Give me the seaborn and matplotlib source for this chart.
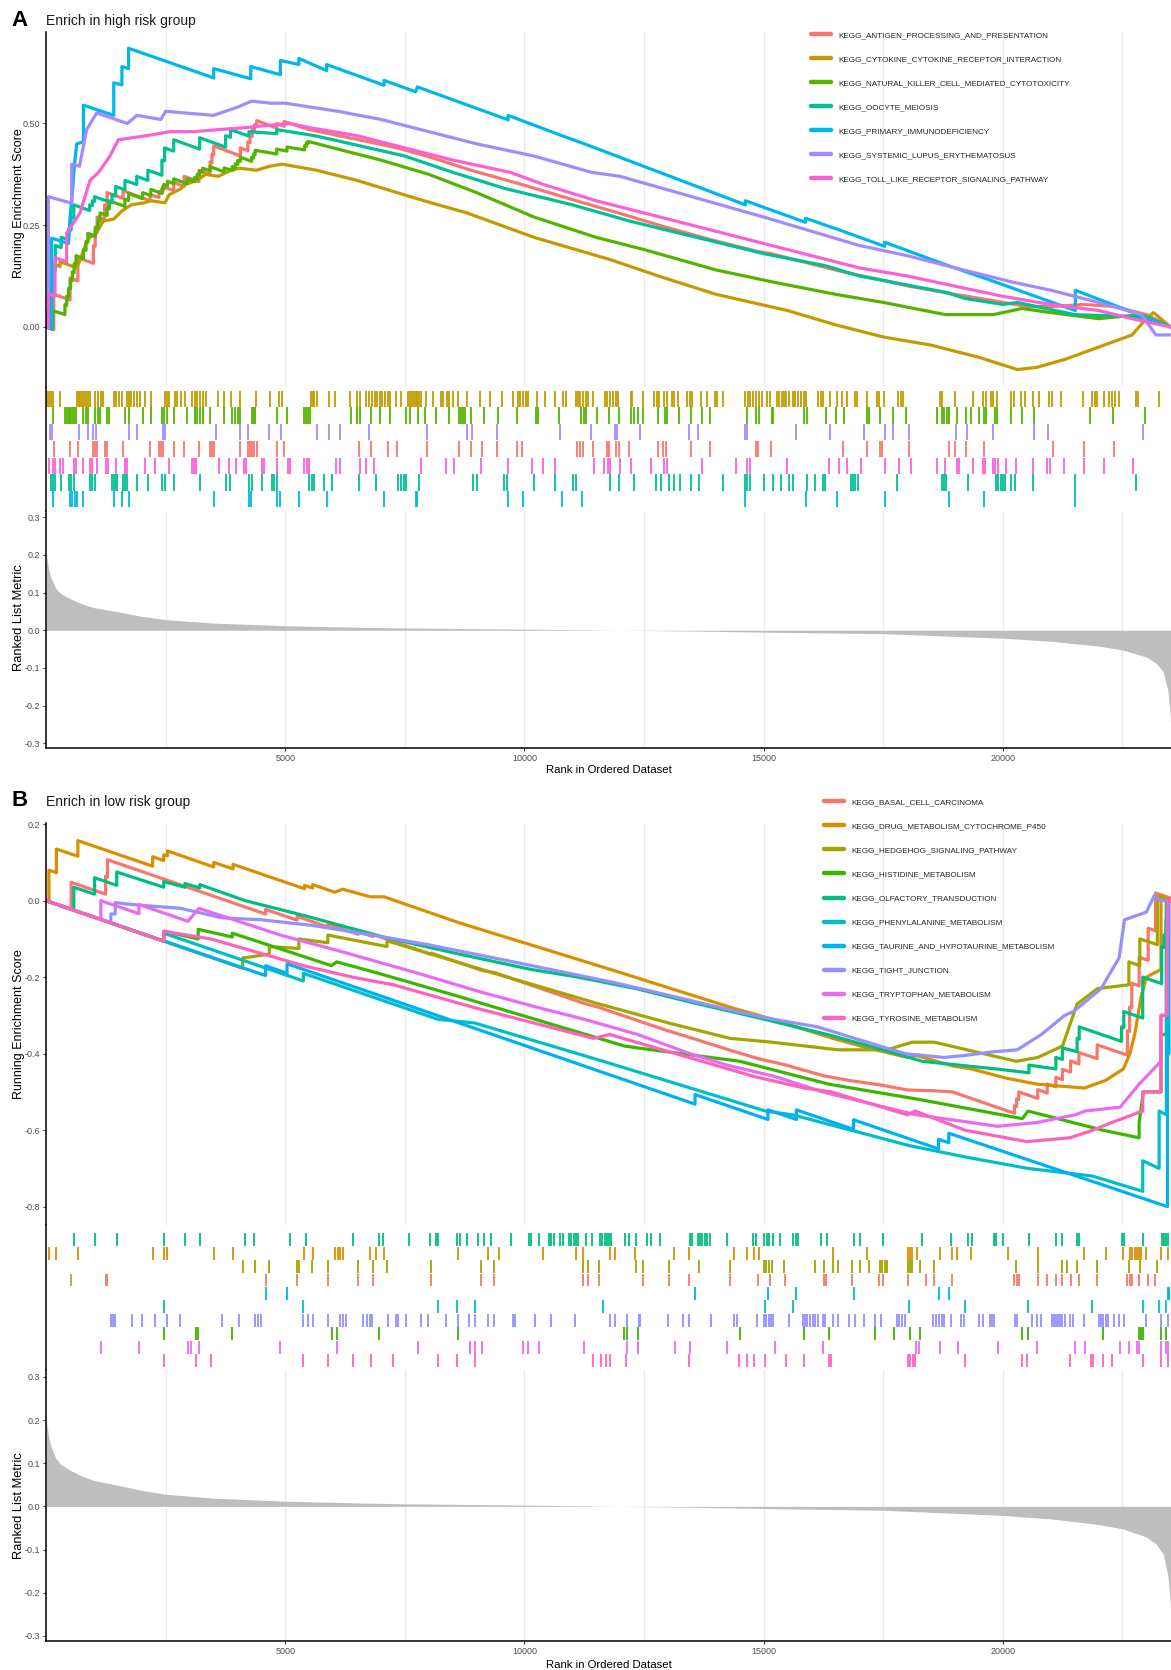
import matplotlib
matplotlib.use("Agg")
import matplotlib.pyplot as plt
import seaborn as sns
import pandas as pd
from matplotlib.lines import Line2D
from matplotlib.ticker import FormatStrFormatter

# ---------------------------------------------------------------- data
N_GENES = 23515

# ranked list metric (rank, metric)
metric_rank = [1, 20, 50, 100, 200, 300, 500, 750, 1000, 1500, 2000, 2500, 3500,
               5000, 6500, 7500, 10000, 12000, 13500, 15000, 17500, 20000, 21000,
               22000, 22500, 23000, 23200, 23350, 23450, 23500, 23515]
metric_value = [0.215, 0.19, 0.165, 0.14, 0.112, 0.098, 0.084, 0.07, 0.06, 0.049,
                0.037, 0.028, 0.019, 0.012, 0.008, 0.006, 0.003, 0.0, -0.002,
                -0.005, -0.009, -0.021, -0.029, -0.042, -0.052, -0.071, -0.087,
                -0.11, -0.16, -0.226, -0.285]

# ---- panel A : enriched in high risk group
sets_A = ["KEGG_ANTIGEN_PROCESSING_AND_PRESENTATION",
          "KEGG_CYTOKINE_CYTOKINE_RECEPTOR_INTERACTION",
          "KEGG_NATURAL_KILLER_CELL_MEDIATED_CYTOTOXICITY",
          "KEGG_OOCYTE_MEIOSIS",
          "KEGG_PRIMARY_IMMUNODEFICIENCY",
          "KEGG_SYSTEMIC_LUPUS_ERYTHEMATOSUS",
          "KEGG_TOLL_LIKE_RECEPTOR_SIGNALING_PATHWAY"]
colors_A = ["#F8766D", "#C49A00", "#53B400", "#00C094", "#00B6EB", "#A58AFF", "#FB61D7"]
rows_A = [3, 0, 1, 5, 6, 2, 4]  # strip row of each set (top = 0)

es_antigen = [(0, 0), (163, -0.007), (163, 0.08), (503, 0.066), (503, 0.12), (666, 0.113),
              (666, 0.17), (991, 0.156), (991, 0.2), (1029, 0.198), (1029, 0.235),
              (1068, 0.233), (1068, 0.27), (1223, 0.264), (1223, 0.3), (1277, 0.298),
              (1277, 0.33), (1610, 0.316), (1610, 0.335), (2175, 0.31), (2175, 0.325),
              (2361, 0.318), (2361, 0.333), (2438, 0.33), (2438, 0.345), (2670, 0.335),
              (2670, 0.355), (2887, 0.345), (2887, 0.37), (3197, 0.357), (3197, 0.385),
              (3429, 0.375), (3429, 0.405), (3468, 0.403), (3468, 0.425), (3506, 0.423),
              (3506, 0.445), (4064, 0.42), (4064, 0.44), (4218, 0.433), (4218, 0.455),
              (4265, 0.453), (4265, 0.47), (4311, 0.468), (4311, 0.485), (4358, 0.483),
              (4358, 0.497), (4404, 0.495), (4404, 0.507), (4822, 0.489), (4822, 0.5),
              (4977, 0.493), (4977, 0.505), (5500, 0.485), (6540, 0.46), (7338, 0.44),
              (7957, 0.42), (8886, 0.385), (9946, 0.35), (11230, 0.305), (11967, 0.28),
              (12957, 0.245), (13872, 0.215), (14885, 0.185), (15152, 0.18),
              (16661, 0.135), (17483, 0.115), (18032, 0.1), (19000, 0.08),
              (19609, 0.068), (20500, 0.05), (21057, 0.05), (21705, 0.055),
              (22314, 0.05), (23000, 0.03), (23500, 0.0)]
es_cytokine = [(0, 0), (23, 0.0), (23, 0.04), (62, 0.04), (62, 0.08), (101, 0.08),
               (101, 0.12), (139, 0.12), (139, 0.155), (294, 0.148), (294, 0.16),
               (642, 0.145), (700, 0.16), (759, 0.18), (797, 0.19), (836, 0.205),
               (913, 0.22), (1029, 0.225), (1146, 0.25), (1200, 0.26), (1416, 0.265),
               (1587, 0.285), (1780, 0.3), (2059, 0.305), (2190, 0.31), (2485, 0.305),
               (2577, 0.325), (2825, 0.34), (2903, 0.35), (3158, 0.36), (3336, 0.375),
               (3599, 0.37), (3870, 0.385), (4048, 0.39), (4396, 0.385), (4683, 0.395),
               (4938, 0.4), (5658, 0.385), (6500, 0.36), (7200, 0.335), (7900, 0.31),
               (8800, 0.28), (10200, 0.22), (11800, 0.165), (12800, 0.125),
               (14000, 0.08), (15500, 0.04), (16500, 0.005), (17500, -0.025),
               (18500, -0.045), (19500, -0.075), (20300, -0.105), (20700, -0.1),
               (21300, -0.08), (22000, -0.05), (22700, -0.02), (23000, 0.02),
               (23150, 0.035), (23300, 0.02), (23500, 0.0)]
es_nk = [(0, 0), (139, -0.006), (139, 0.04), (395, 0.03), (395, 0.055), (433, 0.053),
         (433, 0.075), (472, 0.073), (472, 0.095), (511, 0.093), (511, 0.115),
         (550, 0.113), (550, 0.135), (588, 0.133), (588, 0.155), (627, 0.153),
         (627, 0.175), (782, 0.168), (782, 0.19), (836, 0.188), (836, 0.21),
         (875, 0.208), (875, 0.23), (1029, 0.223), (1029, 0.245), (1091, 0.242),
         (1091, 0.262), (1130, 0.26), (1130, 0.28), (1277, 0.274), (1277, 0.292),
         (1324, 0.29), (1324, 0.31), (1649, 0.296), (1649, 0.314), (1726, 0.311),
         (1726, 0.328), (2020, 0.315), (2020, 0.33), (2190, 0.323), (2190, 0.338),
         (2423, 0.328), (2423, 0.34), (2461, 0.338), (2461, 0.35), (2539, 0.347),
         (2539, 0.358), (2670, 0.352), (2670, 0.364), (2949, 0.352), (2949, 0.364),
         (3104, 0.357), (3104, 0.367), (3158, 0.365), (3158, 0.375), (3212, 0.373),
         (3212, 0.383), (3274, 0.38), (3274, 0.39), (3429, 0.384), (3429, 0.394),
         (3723, 0.381), (3723, 0.391), (3893, 0.384), (3893, 0.394), (3955, 0.391),
         (3955, 0.401), (4009, 0.399), (4009, 0.409), (4064, 0.407), (4064, 0.417),
         (4296, 0.407), (4296, 0.417), (4342, 0.415), (4342, 0.425), (4373, 0.424),
         (4373, 0.434), (4822, 0.425), (4822, 0.437), (5039, 0.432), (5039, 0.442),
         (5403, 0.435), (5403, 0.445), (5441, 0.444), (5441, 0.452), (5480, 0.451),
         (5480, 0.456), (6000, 0.44), (7000, 0.41), (8000, 0.375), (9000, 0.33),
         (10200, 0.27), (11500, 0.22), (12500, 0.19), (14000, 0.14), (15200, 0.11),
         (16500, 0.08), (17500, 0.06), (18800, 0.03), (19800, 0.03), (20400, 0.045),
         (21000, 0.035), (22000, 0.02), (22900, 0.03), (23500, 0.0)]
es_oocyte = [(0, 0), (101, -0.004), (101, 0.08), (147, 0.078), (147, 0.14), (194, 0.138),
             (194, 0.2), (317, 0.195), (317, 0.22), (472, 0.214), (472, 0.24),
             (526, 0.238), (526, 0.27), (580, 0.268), (580, 0.3), (913, 0.286),
             (913, 0.3), (968, 0.298), (968, 0.31), (1014, 0.308), (1014, 0.32),
             (1378, 0.305), (1378, 0.325), (1455, 0.322), (1455, 0.345), (1649, 0.337),
             (1649, 0.36), (1896, 0.35), (1896, 0.37), (2129, 0.36), (2129, 0.385),
             (2423, 0.373), (2423, 0.41), (2477, 0.408), (2477, 0.44), (2670, 0.432),
             (2670, 0.46), (3212, 0.437), (3212, 0.465), (3754, 0.442), (3754, 0.47),
             (3855, 0.466), (3855, 0.485), (4242, 0.469), (4242, 0.48), (4822, 0.475),
             (4822, 0.485), (5612, 0.47), (6000, 0.46), (7500, 0.42), (8500, 0.38),
             (9600, 0.34), (11000, 0.3), (12200, 0.26), (13600, 0.22), (15000, 0.18),
             (16300, 0.15), (17000, 0.125), (18800, 0.085), (19200, 0.07),
             (20000, 0.055), (20300, 0.06), (21500, 0.03), (22800, 0.025), (23500, 0.0)]
es_pi = [(0, 0), (118, -0.005), (118, 0.218), (470, 0.205), (503, 0.27), (550, 0.33),
         (596, 0.40), (642, 0.45), (782, 0.455), (782, 0.545), (1416, 0.52),
         (1416, 0.60), (1587, 0.595), (1587, 0.64), (1726, 0.635), (1726, 0.685),
         (3506, 0.612), (3506, 0.635), (4280, 0.61), (4280, 0.64), (4900, 0.62),
         (4900, 0.655), (5286, 0.645), (5286, 0.66), (5867, 0.63), (5867, 0.645),
         (7067, 0.594), (7067, 0.606), (7725, 0.578), (7763, 0.59), (9660, 0.509),
         (9660, 0.52), (10782, 0.47), (11208, 0.452), (14618, 0.3), (14618, 0.31),
         (15876, 0.257), (15876, 0.267), (16539, 0.24), (17529, 0.198),
         (17529, 0.208), (18870, 0.15), (19609, 0.12), (21515, 0.04),
         (21515, 0.09), (23500, 0.0)]
es_sle = [(0, 0), (49, -0.002), (49, 0.32), (537, 0.304), (537, 0.4), (700, 0.395),
          (850, 0.485), (1060, 0.526), (1700, 0.5), (1900, 0.52), (2400, 0.51),
          (2500, 0.53), (3500, 0.52), (4000, 0.54), (4300, 0.555), (4700, 0.55),
          (5000, 0.55), (6100, 0.53), (7000, 0.51), (8000, 0.48), (9000, 0.45),
          (10200, 0.42), (11400, 0.38), (12000, 0.37), (13500, 0.32), (15000, 0.27),
          (17000, 0.2), (18000, 0.175), (19000, 0.145), (20200, 0.11), (21000, 0.09),
          (22000, 0.06), (22900, 0.03), (23200, -0.02), (23500, -0.02)]
es_toll = [(0, 0), (49, -0.002), (49, 0.082), (188, 0.076), (188, 0.17), (432, 0.16),
           (432, 0.23), (710, 0.28), (920, 0.36), (1100, 0.38), (1338, 0.42),
           (1512, 0.46), (2100, 0.47), (2600, 0.48), (3100, 0.48), (3600, 0.485),
           (4200, 0.49), (4600, 0.495), (5100, 0.5), (5500, 0.49), (6500, 0.47),
           (7500, 0.44), (8500, 0.41), (9700, 0.38), (10400, 0.35), (11500, 0.31),
           (12500, 0.28), (14000, 0.235), (15500, 0.19), (17000, 0.145),
           (18000, 0.125), (19000, 0.1), (20000, 0.075), (21000, 0.055),
           (22000, 0.04), (22700, 0.02), (23500, 0.0)]

hits_antigen = [163, 503, 666, 991, 1029, 1068, 1223, 1277, 1610, 2175, 2361, 2399, 2438,
                2670, 2887, 3197, 3429, 3468, 3506, 4064, 4218, 4265, 4311, 4358, 4404,
                4822, 4977, 6540, 6796, 7144, 7338, 7957, 8630, 8886, 9118, 9428, 9838,
                9946, 11107, 11169, 11230, 11440, 11723, 11768, 11913, 11967, 12195,
                12790, 12904, 12957, 13475, 13872, 14847, 14885, 15152, 16661, 17171,
                17438, 17483, 18032, 18870, 19000, 19228, 19609, 21057, 21705, 22314]
hits_cytokine = [23, 62, 101, 139, 294, 642, 681, 720, 759, 797, 836, 875, 913, 1029,
                 1091, 1146, 1200, 1416, 1471, 1517, 1587, 1687, 1726, 1780, 1842, 1896,
                 1974, 2059, 2190, 2485, 2523, 2577, 2694, 2748, 2825, 2903, 3057, 3104,
                 3158, 3212, 3274, 3336, 3599, 3723, 3870, 4048, 4396, 4683, 4861, 4938,
                 5534, 5573, 5612, 5658, 5921, 6037, 6347, 6502, 6564, 6695, 6757, 6811,
                 6873, 6927, 6974, 7028, 7082, 7144, 7198, 7314, 7415, 7570, 7608, 7647,
                 7686, 7725, 7763, 7802, 7841, 7934, 8088, 8266, 8305, 8382, 8421, 8499,
                 8615, 8808, 9079, 9273, 9528, 9752, 9868, 9915, 9969, 10023, 10070,
                 10255, 10434, 10643, 10797, 10875, 11068, 11115, 11169, 11223, 11277,
                 11339, 11440, 11688, 11734, 11788, 11850, 11904, 11958, 12218, 12256,
                 12485, 12713, 12767, 12812, 12927, 12980, 13094, 13132, 13209, 13399,
                 13460, 13513, 13689, 13818, 13994, 14024, 14161, 14618, 14672, 14717,
                 14771, 14847, 14900, 14961, 15076, 15137, 15289, 15327, 15380, 15426,
                 15472, 15533, 15609, 15662, 15723, 15777, 15838, 15876, 16142, 16196,
                 16249, 16386, 16539, 16638, 16752, 16904, 16950, 17171, 17362, 17415,
                 17514, 17819, 17864, 17910, 18695, 18733, 19000, 19381, 19587, 19648,
                 19762, 19800, 19876, 20181, 20234, 20371, 20471, 20623, 20752, 20958,
                 21019, 21210, 21667, 21873, 21918, 21972, 22124, 22223, 22276, 22353,
                 22429, 22787, 22833, 23267]
hits_nk = [139, 395, 433, 472, 511, 550, 588, 627, 782, 836, 875, 1029, 1091, 1130, 1277,
           1324, 1649, 1726, 2020, 2190, 2423, 2461, 2539, 2670, 2949, 3104, 3158, 3212,
           3274, 3429, 3723, 3893, 3955, 4009, 4064, 4296, 4342, 4373, 4822, 5039, 5403,
           5441, 5480, 5519, 6370, 6509, 6564, 6796, 6989, 7183, 7531, 7608, 7779, 7918,
           8150, 8421, 8630, 8677, 8715, 8754, 8886, 9156, 9451, 9853, 10240, 10294,
           10720, 11184, 11246, 11277, 11517, 11768, 11967, 12218, 12294, 12370, 12485,
           12790, 12942, 12980, 13232, 13475, 13704, 13872, 14656, 14847, 14900, 15167,
           15197, 15838, 15899, 16295, 16523, 16676, 17171, 17209, 17438, 17704, 17971,
           18619, 18733, 18779, 18825, 18870, 19038, 19228, 19343, 19495, 19610, 19648,
           19838, 19876, 20181, 20394, 20653, 21819, 22299, 22962]
hits_oocyte = [101, 147, 194, 317, 472, 526, 580, 913, 968, 1014, 1378, 1416, 1455, 1494,
               1610, 1649, 1695, 1896, 2129, 2423, 2477, 2670, 3212, 3754, 3855, 4242,
               4296, 4512, 4729, 4776, 4822, 5503, 5557, 5612, 5813, 5983, 6540, 6896,
               7361, 7415, 7492, 7531, 7802, 8924, 9017, 9582, 9636, 10201, 10643, 11014,
               11076, 11784, 11967, 12294, 12751, 12851, 13018, 13132, 13262, 13491,
               13643, 14161, 14603, 14656, 14710, 14999, 15190, 15365, 15533, 15609,
               15899, 16066, 16234, 16280, 16828, 16874, 16920, 16965, 17781, 18718,
               18764, 18809, 19282, 19861, 19907, 19952, 19998, 20044, 20181, 20257,
               20623, 21515, 22787]
hits_pi = [139, 503, 550, 596, 642, 782, 1416, 1587, 1726, 3506, 4242, 4280, 4838, 4900,
           5286, 5867, 7067, 7725, 7763, 9660, 9969, 10782, 11208, 14618, 15876, 16539,
           17529, 18870, 19609, 21515]
hits_sle = [85, 124, 681, 875, 991, 1045, 1726, 1896, 2438, 2485, 3545, 4048, 4226, 4652,
            4915, 5658, 5921, 6153, 6757, 7972, 8808, 8909, 9428, 10743, 11401, 11890,
            11936, 12409, 13437, 13628, 14618, 14656, 15685, 16386, 17095, 17529, 17704,
            18032, 19023, 19251, 19800, 20653, 20943, 22924]
hits_toll = [62, 139, 194, 294, 348, 581, 627, 782, 913, 968, 1068, 1246, 1300, 1455,
             1649, 1695, 2074, 2268, 2577, 3042, 3088, 3135, 3622, 3816, 3971, 4141, 4187,
             4512, 4559, 4822, 5054, 5101, 5403, 5457, 5503, 6060, 6138, 6564, 6680, 6850,
             7841, 8367, 8537, 9095, 9660, 10163, 10395, 10643, 11463, 11672, 11738,
             11784, 11989, 12218, 12637, 12927, 12988, 13719, 14428, 14656, 14710, 15495,
             16371, 16584, 16752, 17041, 17529, 17834, 18085, 18619, 18794, 19038, 19084,
             19381, 19587, 19632, 19800, 19846, 19891, 20067, 20272, 20638, 20928, 20989,
             21286, 21705, 22124, 22711]

# ---- panel B : enriched in low risk group
sets_B = ["KEGG_BASAL_CELL_CARCINOMA",
          "KEGG_DRUG_METABOLISM_CYTOCHROME_P450",
          "KEGG_HEDGEHOG_SIGNALING_PATHWAY",
          "KEGG_HISTIDINE_METABOLISM",
          "KEGG_OLFACTORY_TRANSDUCTION",
          "KEGG_PHENYLALANINE_METABOLISM",
          "KEGG_TAURINE_AND_HYPOTAURINE_METABOLISM",
          "KEGG_TIGHT_JUNCTION",
          "KEGG_TRYPTOPHAN_METABOLISM",
          "KEGG_TYROSINE_METABOLISM"]
colors_B = ["#F8766D", "#D89000", "#A3A500", "#39B600", "#00BF7D",
            "#00BFC4", "#00B0F6", "#9590FF", "#E76BF3", "#FF62BC"]
rows_B = [3, 1, 2, 7, 0, 5, 4, 6, 8, 9]

es_basal = [(0, 0), (526, -0.022), (526, 0.048), (1246, 0.017), (1246, 0.064),
            (1285, 0.062), (1285, 0.107), (4590, -0.035), (4590, -0.023),
            (5248, -0.051), (5248, -0.041), (5890, -0.069), (5890, -0.061),
            (6525, -0.088), (6525, -0.081), (6834, -0.094), (6834, -0.088),
            (8057, -0.141), (8057, -0.137), (9095, -0.182), (9373, -0.188),
            (11231, -0.268), (11556, -0.279), (12469, -0.318), (13018, -0.341),
            (13437, -0.357), (14298, -0.391), (14885, -0.413), (15441, -0.429),
            (16256, -0.458), (16843, -0.471), (17498, -0.483), (18009, -0.495),
            (18565, -0.497), (18946, -0.5), (20242, -0.556), (20242, -0.536),
            (20288, -0.538), (20288, -0.518), (20333, -0.52), (20333, -0.5),
            (20729, -0.517), (20729, -0.494), (20928, -0.503), (20928, -0.479),
            (21108, -0.487), (21108, -0.462), (21247, -0.468), (21247, -0.441),
            (21415, -0.448), (21415, -0.419), (21590, -0.427), (21590, -0.397),
            (21971, -0.413), (21971, -0.377), (22604, -0.404), (22604, -0.34),
            (22650, -0.342), (22650, -0.278), (22695, -0.28), (22695, -0.216),
            (22848, -0.223), (22848, -0.148), (23038, -0.156), (23038, -0.072),
            (23191, -0.079), (23191, 0.02), (23500, 0.007)]
es_drug = [(0, 0), (62, -0.003), (62, 0.08), (217, 0.073), (217, 0.135), (666, 0.116),
           (666, 0.157), (2229, 0.09), (2229, 0.115), (2461, 0.105), (2461, 0.12),
           (2539, 0.117), (2539, 0.13), (3506, 0.088), (3506, 0.1), (3909, 0.083),
           (3909, 0.095), (5403, 0.031), (5403, 0.04), (5573, 0.033), (5573, 0.042),
           (6037, 0.022), (6200, 0.03), (6780, 0.01), (7067, 0.01), (8615, -0.057),
           (9466, -0.09), (10379, -0.125), (11231, -0.158), (11904, -0.184),
           (13117, -0.232), (14389, -0.282), (14908, -0.3), (16447, -0.36),
           (17171, -0.385), (18009, -0.41), (18199, -0.405), (18946, -0.432),
           (19342, -0.44), (20104, -0.465), (20729, -0.48), (21705, -0.49),
           (22147, -0.47), (22520, -0.44), (22657, -0.4), (22756, -0.35),
           (22893, -0.25), (23000, -0.2), (23305, -0.18), (23305, 0.012),
           (23457, 0.005), (23500, 0.0)]
es_hedgehog = [(0, 0), (4110, -0.177), (4110, -0.15), (4667, -0.14), (4667, -0.12),
               (5286, -0.125), (5286, -0.1), (5890, -0.11), (5890, -0.09),
               (7129, -0.12), (7129, -0.105), (9373, -0.19), (11556, -0.27),
               (13018, -0.32), (14298, -0.36), (15167, -0.37), (16561, -0.39),
               (17575, -0.39), (18108, -0.37), (18565, -0.37), (20280, -0.42),
               (20729, -0.41), (21247, -0.38), (21552, -0.27), (21980, -0.23),
               (22634, -0.22), (22634, -0.16), (22863, -0.17), (22863, -0.1),
               (23229, -0.115), (23229, 0.01), (23500, 0.0)]
es_histidine = [(0, 0), (2461, -0.106), (2461, -0.08), (3181, -0.1), (3181, -0.075),
                (3893, -0.095), (3893, -0.085), (5968, -0.17), (6076, -0.16),
                (6951, -0.19), (8615, -0.25), (12088, -0.38), (12370, -0.385),
                (14504, -0.42), (16371, -0.48), (18260, -0.52), (20409, -0.57),
                (20524, -0.55), (22086, -0.6), (22848, -0.62), (22848, -0.58),
                (22939, -0.5), (23305, -0.5), (23305, -0.35), (23419, -0.35),
                (23419, 0.0), (23500, 0.0)]
es_olfactory = [(0, 0), (581, -0.025), (581, 0.035), (1014, 0.017), (1014, 0.06),
                (1478, 0.04), (1478, 0.075), (2461, 0.035), (2461, 0.05),
                (2903, 0.035), (2903, 0.045), (3212, 0.033), (3212, 0.042),
                (4164, 0.0), (5426, -0.04), (7051, -0.095), (8646, -0.14),
                (10147, -0.18), (11122, -0.2), (12332, -0.23), (13460, -0.265),
                (14847, -0.305), (16333, -0.35), (17498, -0.39), (18314, -0.42),
                (19861, -0.44), (20546, -0.45), (20546, -0.43), (21108, -0.44),
                (21108, -0.41), (21247, -0.415), (21247, -0.385), (21552, -0.395),
                (21552, -0.36), (21597, -0.362), (21597, -0.33), (22482, -0.368),
                (22482, -0.33), (22528, -0.332), (22528, -0.29), (22924, -0.307),
                (22924, -0.2), (23320, -0.217), (23320, -0.12), (23366, -0.122),
                (23366, -0.09), (23411, -0.092), (23411, -0.05), (23457, -0.052),
                (23457, 0.0), (23500, 0.0)]
es_phenylalanine = [(0, 0), (2461, -0.106), (2461, -0.085), (5379, -0.21), (5379, -0.19),
                    (8189, -0.31), (8963, -0.32), (11646, -0.42), (15037, -0.55),
                    (15609, -0.56), (18032, -0.64), (19205, -0.67), (20524, -0.7),
                    (21872, -0.72), (22924, -0.76), (22924, -0.68), (23267, -0.7),
                    (23267, -0.55), (23419, -0.56), (23419, 0.0), (23500, 0.0)]
es_taurine = [(0, 0), (4590, -0.196), (4590, -0.17), (5039, -0.19), (5039, -0.165),
              (13566, -0.532), (13566, -0.507), (15090, -0.572), (15090, -0.547),
              (15685, -0.572), (15685, -0.547), (16881, -0.598), (16881, -0.573),
              (18657, -0.649), (18657, -0.624), (18870, -0.633), (18870, -0.608),
              (23442, -0.80), (23442, -0.4), (23472, -0.4), (23472, 0.0), (23500, 0.0)]
es_tight = [(0, 0), (1355, -0.058), (1355, -0.035), (1447, -0.035), (1447, -0.005),
            (1790, -0.01), (2283, -0.015), (2810, -0.02), (3684, -0.045),
            (4497, -0.05), (5581, -0.065), (6819, -0.09), (7980, -0.115),
            (9373, -0.15), (10550, -0.18), (11904, -0.215), (12423, -0.23),
            (13437, -0.26), (14435, -0.29), (15197, -0.31), (16127, -0.33),
            (16904, -0.36), (17956, -0.4), (18771, -0.41), (19190, -0.405),
            (19815, -0.395), (20302, -0.39), (20805, -0.35), (21293, -0.3),
            (21476, -0.29), (22055, -0.23), (22193, -0.2), (22429, -0.15),
            (22543, -0.05), (23000, -0.03), (23160, 0.012), (23305, 0.0),
            (23500, 0.0)]
es_tryptophan = [(0, 0), (1146, -0.049), (1146, 0.0), (1943, -0.034), (1943, -0.01),
                 (2965, -0.054), (3197, -0.02), (4900, -0.09), (6084, -0.13),
                 (7779, -0.19), (9118, -0.24), (10302, -0.28), (11246, -0.31),
                 (12370, -0.35), (13460, -0.4), (14237, -0.43), (15243, -0.46),
                 (16233, -0.5), (18184, -0.56), (19053, -0.575), (19891, -0.59),
                 (20714, -0.58), (21514, -0.56), (21720, -0.55), (22451, -0.54),
                 (22848, -0.48), (23305, -0.42), (23305, -0.3), (23419, -0.3),
                 (23457, 0.0), (23500, 0.0)]
es_tyrosine = [(0, 0), (2461, -0.106), (2461, -0.08), (3444, -0.1), (5379, -0.17),
               (6409, -0.2), (7260, -0.22), (8963, -0.28), (11440, -0.36),
               (11783, -0.35), (13437, -0.41), (14809, -0.46), (15852, -0.49),
               (16416, -0.5), (18009, -0.56), (18169, -0.55), (19205, -0.6),
               (20500, -0.63), (21399, -0.62), (21887, -0.6), (22276, -0.58),
               (22924, -0.55), (22924, -0.5), (23305, -0.5), (23305, -0.3),
               (23442, -0.3), (23442, 0.0), (23500, 0.0)]

hits_basal = [526, 1246, 1285, 4590, 5248, 5890, 6525, 6834, 8057, 9095, 9373, 11231,
              11324, 11556, 12469, 13018, 13437, 14298, 14885, 15136, 15441, 16256,
              16294, 16843, 17422, 17498, 18009, 18390, 18565, 18946, 20242, 20288,
              20333, 20729, 20928, 21108, 21247, 21415, 21590, 21971, 22604, 22650,
              22695, 22848, 23038, 23191]
hits_drug = [62, 217, 666, 2229, 2461, 2539, 3506, 3909, 5403, 5573, 6037, 6099, 6153,
             6200, 6780, 6896, 7067, 8615, 9234, 9466, 10379, 11076, 11231, 11783, 11890,
             12317, 13117, 13437, 14389, 14656, 14809, 14908, 16447, 17171, 18009, 18062,
             18108, 18199, 18695, 18946, 19038, 19342, 20104, 20729, 21705, 22147, 22520,
             22657, 22710, 22756, 22802, 22848, 22893, 23000, 23305, 23457]
hits_hedgehog = [4110, 4373, 4667, 5248, 5286, 5557, 5890, 6525, 6834, 7129, 8057, 9095,
                 9373, 11231, 11324, 11556, 12332, 12469, 13018, 13643, 14298, 14999,
                 15060, 15121, 15167, 15418, 16066, 16256, 16447, 16561, 16843, 17018,
                 17194, 17437, 17483, 17529, 17575, 18009, 18062, 18108, 18260, 18565,
                 20280, 20729, 21247, 21339, 21552, 21971, 22634, 22863, 23229]
hits_histidine = [2461, 3135, 3181, 3893, 5968, 6076, 6951, 8615, 12088, 12134, 12370,
                  14504, 15852, 16371, 17323, 17727, 18062, 18260, 20409, 20524, 22086,
                  22848, 22893, 22939, 23305, 23419]
hits_olfactory = [581, 1014, 1478, 2461, 2903, 3212, 4164, 4358, 5108, 5426, 6409, 6951,
                  7051, 7585, 8034, 8150, 8197, 8599, 8646, 8808, 9040, 9156, 9296, 9714,
                  10101, 10147, 10302, 10511, 10565, 10612, 10743, 10797, 10937, 10983,
                  11030, 11076, 11122, 11285, 11417, 11585, 11631, 11677, 11722, 11768,
                  11814, 12103, 12195, 12332, 12561, 12637, 12827, 13460, 13513, 13627,
                  13673, 13719, 13780, 13826, 13871, 14237, 14786, 14847, 14999, 15075,
                  15121, 15190, 15342, 15609, 15670, 15723, 16203, 16333, 16881, 17018,
                  17498, 18314, 18923, 19281, 19358, 19815, 19861, 20013, 20546, 21108,
                  21247, 21552, 21597, 22482, 22528, 22924, 23320, 23366, 23411, 23457]
hits_phenylalanine = [2461, 5379, 8189, 8599, 8963, 11646, 15037, 15609, 18032, 19205,
                      20524, 21872, 22924, 23267, 23419]
hits_taurine = [4590, 5039, 13566, 15090, 15685, 16881, 18657, 18870, 23442, 23472]
hits_tight = [1355, 1401, 1447, 1788, 1997, 2283, 2539, 2810, 3684, 4033, 4373, 4435,
              4497, 5364, 5480, 5581, 5890, 6138, 6200, 6262, 6618, 6718, 6773, 6819,
              7144, 7314, 7361, 7531, 7841, 7980, 8367, 8615, 8847, 8963, 9234, 9373,
              9760, 9807, 10225, 10550, 11053, 11783, 11890, 12142, 12393, 12423, 13003,
              13323, 13437, 13894, 14389, 14435, 14862, 15014, 15060, 15106, 15151,
              15197, 15532, 15822, 15868, 15913, 15959, 16028, 16081, 16127, 16233,
              16279, 16447, 16561, 16790, 16904, 17095, 17323, 17453, 17780, 17834,
              17895, 17956, 18542, 18596, 18657, 18718, 18771, 18923, 19129, 19190,
              19495, 19586, 19723, 19769, 19815, 20257, 20302, 20600, 20714, 20805,
              21019, 21065, 21110, 21156, 21202, 21247, 21293, 21400, 21476, 21705,
              22009, 22055, 22101, 22147, 22193, 22314, 22429, 22543, 23000, 23305,
              23457]
hits_tryptophan = [1146, 1943, 2965, 3026, 3197, 4900, 6084, 7779, 8862, 8963, 9118,
                   9969, 10085, 10302, 11246, 12142, 12370, 13155, 13460, 14237, 15243,
                   16233, 18184, 18238, 18695, 19053, 19891, 20714, 21514, 21720, 22451,
                   22634, 22810, 22848, 23305, 23419, 23457]
hits_tyrosine = [2461, 3135, 3444, 5379, 5890, 6409, 6796, 7260, 8189, 8599, 8963, 11440,
                 11595, 11711, 11783, 12119, 13437, 14481, 14656, 14809, 15037, 15471,
                 15852, 16371, 16416, 18009, 18062, 18123, 18169, 19205, 20409, 20500,
                 21399, 21841, 21887, 22086, 22276, 22924, 23305, 23442]

curves_A = [es_antigen, es_cytokine, es_nk, es_oocyte, es_pi, es_sle, es_toll]
hits_A = [hits_antigen, hits_cytokine, hits_nk, hits_oocyte, hits_pi, hits_sle, hits_toll]
curves_B = [es_basal, es_drug, es_hedgehog, es_histidine, es_olfactory,
            es_phenylalanine, es_taurine, es_tight, es_tryptophan, es_tyrosine]
hits_B = [hits_basal, hits_drug, hits_hedgehog, hits_histidine, hits_olfactory,
          hits_phenylalanine, hits_taurine, hits_tight, hits_tryptophan, hits_tyrosine]

# ---------------------------------------------------------------- style
sns.set_theme(style="white")
plt.rcParams["font.family"] = ["Liberation Sans", "DejaVu Sans"]
plt.rcParams["axes.unicode_minus"] = True

W, H = 1171, 1670
fig = plt.figure(figsize=(W / 100, H / 100), dpi=100)
LEFT, RIGHT = 46, 1171
GRID_C = "#EBEBEB"
TICK_C = "#4D4D4D"
GRID_X = [2500 * k for k in range(1, 10)]


def add_ax(top, bottom):
    return fig.add_axes([LEFT / W, 1 - bottom / H, (RIGHT - LEFT) / W, (bottom - top) / H])


def style_left(ax):
    for s in ("top", "right", "bottom"):
        ax.spines[s].set_visible(False)
    ax.spines["left"].set_color("black")
    ax.spines["left"].set_linewidth(1.1)
    ax.tick_params(axis="y", which="major", left=True, length=2.5, width=0.8,
                   color="#333333", labelsize=6.5, labelcolor=TICK_C, pad=1.5)


def panel(tag, title, y0, sets, colors, rows, curves, hits, es_box, es_lim, es_ticks,
          es_fmt, es_lab_y, strip_box, strip_lim, met_box, met_lab_y, xlab_y,
          leg_x, leg_y, leg_space):
    # ---- running enrichment score
    ax1 = add_ax(*es_box)
    frames = []
    for name, pts in zip(sets, curves):
        d = pd.DataFrame(pts, columns=["rank", "es"])
        d["set"] = name
        frames.append(d)
    df = pd.concat(frames, ignore_index=True)
    sns.lineplot(data=df, x="rank", y="es", hue="set", hue_order=sets,
                 palette=dict(zip(sets, colors)), estimator=None, sort=False,
                 linewidth=2.3, legend=False, ax=ax1)
    ax1.set_xlim(0, N_GENES)
    ax1.set_ylim(*es_lim)
    ax1.set_xticks(GRID_X)
    ax1.xaxis.grid(True, color=GRID_C, lw=1.0)
    ax1.set_axisbelow(True)
    ax1.tick_params(axis="x", bottom=False, labelbottom=False)
    ax1.set_yticks(es_ticks)
    ax1.yaxis.set_major_formatter(FormatStrFormatter(es_fmt))
    style_left(ax1)
    ax1.set_xlabel("")
    ax1.set_ylabel("Running Enrichment Score", fontsize=9, color="black")
    ax1.yaxis.set_label_coords(-0.0185, es_lab_y)
    handles = [Line2D([0], [0], color=c, lw=3.2) for c in colors]
    ax1.legend(handles, sets, loc="upper left", bbox_to_anchor=(leg_x / W, 1 - leg_y / H),
               bbox_transform=fig.transFigure, frameon=False, fontsize=5.9,
               handlelength=2.45, handletextpad=0.85, labelspacing=leg_space,
               borderpad=0, borderaxespad=0, labelcolor="#262626")

    # ---- hit strip
    ax2 = add_ax(*strip_box)
    for name, col, r, hx in zip(sets, colors, rows, hits):
        ax2.vlines(hx, r + 0.02, r + 0.98, color=col, lw=1.3)
    ax2.set_xlim(0, N_GENES)
    ax2.set_ylim(*strip_lim)
    ax2.set_xticks([])
    ax2.set_yticks([])
    for s in ("top", "right", "bottom"):
        ax2.spines[s].set_visible(False)
    ax2.spines["left"].set_color("black")
    ax2.spines["left"].set_linewidth(1.1)

    # ---- ranked list metric
    ax3 = add_ax(*met_box)
    ax3.fill_between(metric_rank, metric_value, 0, color="#BEBEBE", lw=0)
    ax3.set_xlim(0, N_GENES)
    ax3.set_ylim(-0.312, 0.316)
    ax3.set_xticks([5000, 10000, 15000, 20000])
    ax3.set_xticks([2500, 7500, 12500, 17500, 22500], minor=True)
    ax3.xaxis.grid(True, which="both", color=GRID_C, lw=1.0)
    ax3.set_axisbelow(True)
    ax3.set_yticks([0.3, 0.2, 0.1, 0.0, -0.1, -0.2, -0.3])
    ax3.yaxis.set_major_formatter(FormatStrFormatter("%.1f"))
    style_left(ax3)
    ax3.spines["bottom"].set_visible(True)
    ax3.spines["bottom"].set_color("black")
    ax3.spines["bottom"].set_linewidth(1.1)
    ax3.tick_params(axis="x", which="major", bottom=True, length=2.5, width=0.8,
                    color="#333333", labelsize=6.5, labelcolor=TICK_C, pad=1.5)
    ax3.tick_params(axis="x", which="minor", bottom=False)
    ax3.set_ylabel("Ranked List Metric", fontsize=9.3, color="black")
    ax3.yaxis.set_label_coords(-0.0185, met_lab_y)
    fig.text((LEFT + RIGHT) / 2 / W, 1 - xlab_y / H, "Rank in Ordered Dataset",
             ha="center", va="center", fontsize=8.2, color="black")

    # ---- tag and title
    fig.text(20 / W, 1 - y0 / H, tag, ha="center", va="center", fontsize=16,
             fontweight="bold", color="black")
    fig.text(46 / W, 1 - (y0 + 0.5) / H, title, ha="left", va="center", fontsize=10,
             color="#1A1A1A")


panel("A", "Enrich in high risk group", 20, sets_A, colors_A, rows_A, curves_A, hits_A,
      es_box=(32, 387), es_lim=(-0.148, 0.725), es_ticks=[0.0, 0.25, 0.5], es_fmt="%.2f",
      es_lab_y=0.517, strip_box=(387, 511), strip_lim=(7.2, -0.2), met_box=(511, 748),
      met_lab_y=0.549, xlab_y=770, leg_x=811, leg_y=31.5, leg_space=1.98)

panel("B", "Enrich in low risk group", 801, sets_B, colors_B, rows_B, curves_B, hits_B,
      es_box=(823, 1225), es_lim=(-0.848, 0.203),
      es_ticks=[0.2, 0.0, -0.2, -0.4, -0.6, -0.8], es_fmt="%.1f", es_lab_y=0.5,
      strip_box=(1225, 1370), strip_lim=(10.2, -0.6), met_box=(1370, 1641),
      met_lab_y=0.5, xlab_y=1665, leg_x=824, leg_y=798.5, leg_space=1.99)

fig.savefig("out.png", dpi=100)
